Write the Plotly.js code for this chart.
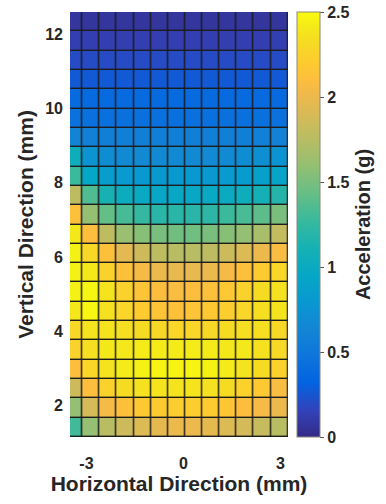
<!DOCTYPE html>
<html>
<head>
<meta charset="utf-8">
<script src="https://cdn.plot.ly/plotly-3.0.1.min.js"></script>
<style>
  html, body { margin: 0; padding: 0; background: #ffffff; }
  #chart { width: 386px; height: 504px; }
</style>
</head>
<body>
<div id="chart"></div>
<script>
// Horizontal positions (mm) of the measurement grid columns (cell centres)
const xPositions = [-3.39, -2.86, -2.33, -1.80, -1.27, -0.74, -0.21, 0.32, 0.85, 1.38, 1.91, 2.44, 2.97];
// Vertical positions (mm) of the measurement grid rows (cell centres), bottom to top
const yPositions = [1.42, 1.94, 2.46, 2.98, 3.50, 4.02, 4.54, 5.06, 5.58, 6.10, 6.62,
                    7.14, 7.66, 8.18, 8.70, 9.22, 9.74, 10.26, 10.78, 11.30, 11.82, 12.34];

// Acceleration (g), one row per vertical position (bottom to top)
const row01 = [1.30, 1.60, 1.75, 1.85, 1.92, 1.97, 2.00, 2.00, 1.97, 1.92, 1.88, 1.82, 1.75];
const row02 = [1.60, 1.88, 2.05, 2.12, 2.18, 2.20, 2.22, 2.22, 2.20, 2.16, 2.10, 2.05, 2.00];
const row03 = [1.85, 2.10, 2.25, 2.32, 2.36, 2.38, 2.38, 2.38, 2.36, 2.32, 2.25, 2.18, 2.08];
const row04 = [2.10, 2.28, 2.38, 2.42, 2.45, 2.46, 2.46, 2.46, 2.45, 2.42, 2.38, 2.32, 2.25];
const row05 = [2.25, 2.35, 2.40, 2.40, 2.42, 2.42, 2.42, 2.42, 2.42, 2.40, 2.40, 2.36, 2.30];
const row06 = [2.30, 2.38, 2.38, 2.35, 2.32, 2.30, 2.28, 2.28, 2.30, 2.32, 2.35, 2.35, 2.30];
const row07 = [2.40, 2.48, 2.36, 2.28, 2.20, 2.15, 2.13, 2.15, 2.18, 2.22, 2.28, 2.35, 2.38];
const row08 = [2.45, 2.47, 2.38, 2.25, 2.15, 2.10, 2.08, 2.10, 2.12, 2.18, 2.25, 2.32, 2.36];
const row09 = [2.45, 2.40, 2.25, 2.12, 2.05, 2.00, 1.98, 1.98, 2.00, 2.05, 2.12, 2.20, 2.28];
const row10 = [2.45, 2.30, 2.12, 1.95, 1.85, 1.78, 1.75, 1.75, 1.78, 1.84, 1.92, 2.00, 2.08];
const row11 = [2.40, 2.10, 1.78, 1.62, 1.55, 1.50, 1.47, 1.47, 1.50, 1.55, 1.60, 1.68, 1.80];
const row12 = [2.12, 1.60, 1.42, 1.32, 1.25, 1.20, 1.20, 1.20, 1.22, 1.28, 1.33, 1.40, 1.50];
const row13 = [1.78, 1.35, 1.12, 1.02, 0.98, 0.96, 0.96, 0.96, 0.98, 1.00, 1.05, 1.10, 1.18];
const row14 = [1.28, 0.95, 0.85, 0.82, 0.80, 0.80, 0.80, 0.80, 0.80, 0.82, 0.84, 0.88, 0.92];
const row15 = [1.05, 0.75, 0.70, 0.68, 0.68, 0.68, 0.68, 0.68, 0.68, 0.68, 0.70, 0.72, 0.75];
const row16 = [0.62, 0.59, 0.58, 0.58, 0.58, 0.58, 0.58, 0.58, 0.58, 0.58, 0.58, 0.59, 0.60];
const row17 = [0.44, 0.43, 0.43, 0.43, 0.43, 0.43, 0.43, 0.43, 0.43, 0.43, 0.43, 0.43, 0.44];
const row18 = [0.38, 0.38, 0.38, 0.38, 0.38, 0.38, 0.38, 0.38, 0.38, 0.38, 0.38, 0.38, 0.38];
const row19 = [0.27, 0.27, 0.27, 0.27, 0.27, 0.27, 0.27, 0.27, 0.27, 0.27, 0.27, 0.27, 0.27];
const row20 = [0.20, 0.20, 0.20, 0.20, 0.20, 0.20, 0.20, 0.20, 0.20, 0.20, 0.20, 0.20, 0.20];
const row21 = [0.13, 0.13, 0.13, 0.13, 0.13, 0.13, 0.13, 0.13, 0.13, 0.13, 0.13, 0.13, 0.13];
const row22 = [0.07, 0.07, 0.07, 0.07, 0.07, 0.07, 0.07, 0.07, 0.07, 0.07, 0.07, 0.07, 0.07];

const accel = [row01, row02, row03, row04, row05, row06, row07, row08, row09, row10, row11,
               row12, row13, row14, row15, row16, row17, row18, row19, row20, row21, row22];

const xTickVals = [-3, 0, 3];
const yTickVals = [2, 4, 6, 8, 10, 12];
const cbTickVals = [0, 0.5, 1, 1.5, 2, 2.5];
const cbTickText = ['0', '0.5', '1', '1.5', '2', '2.5'];

// MATLAB parula colormap (sampled)
const parulaRGB = [
  [1, 0.2081, 0.1663, 0.5292], [5, 0.1959, 0.2645, 0.7279], [9, 0.0117, 0.3875, 0.8820],
  [13, 0.0498, 0.4586, 0.8641], [17, 0.0793, 0.5200, 0.8312], [21, 0.0343, 0.5966, 0.8199],
  [25, 0.0228, 0.6535, 0.7768], [29, 0.0843, 0.6928, 0.7062], [33, 0.2178, 0.7250, 0.6193],
  [37, 0.3953, 0.7459, 0.5244], [41, 0.5709, 0.7485, 0.4494], [45, 0.7184, 0.7411, 0.3905],
  [49, 0.8507, 0.7299, 0.3360], [52, 0.9450, 0.7261, 0.2886], [54, 0.9938, 0.7455, 0.2403],
  [56, 0.9955, 0.7861, 0.1967], [58, 0.9789, 0.8271, 0.1633], [60, 0.9626, 0.8705, 0.1309],
  [62, 0.9598, 0.9218, 0.0948], [64, 0.9763, 0.9831, 0.0538]
];
const parula = parulaRGB.map(function (e) {
  return [(e[0] - 1) / 63, 'rgb(' + Math.round(e[1] * 255) + ',' + Math.round(e[2] * 255) + ',' + Math.round(e[3] * 255) + ')'];
});

const FONT = '"Liberation Sans", Arial, sans-serif';
const TXT = '#262626';

const trace = {
  type: 'heatmap',
  x: xPositions,
  y: yPositions,
  z: accel,
  zmin: 0,
  zmax: 2.5,
  colorscale: parula,
  xgap: 1.4,
  ygap: 1.4,
  hoverinfo: 'skip',
  colorbar: {
    thickness: 23,
    thicknessmode: 'pixels',
    len: 1,
    lenmode: 'fraction',
    x: 1.042,
    xanchor: 'left',
    xpad: 0,
    y: 0.5,
    yanchor: 'middle',
    ypad: 0,
    outlinewidth: 1,
    outlinecolor: '#8a8a7a',
    tickvals: cbTickVals,
    ticktext: cbTickText,
    ticks: 'outside',
    ticklen: 4,
    tickwidth: 1,
    tickcolor: '#555',
    tickfont: { family: FONT, size: 16, color: TXT, weight: 'bold' },
    title: {
      text: '<b>Acceleration (g)</b>',
      side: 'right',
      font: { family: FONT, size: 20, color: TXT }
    }
  }
};

const layout = {
  width: 386,
  height: 504,
  margin: { l: 70, r: 95.3, t: 12.3, b: 66.7, pad: 0 },
  paper_bgcolor: '#ffffff',
  plot_bgcolor: '#1c1c1c',
  showlegend: false,
  xaxis: {
    range: [-3.51, 3.235],
    tickvals: xTickVals,
    ticktext: ['-3', '0', '3'],
    ticks: '',
    showgrid: false,
    zeroline: false,
    showline: false,
    ticklabelstandoff: 15,
    tickfont: { family: FONT, size: 16, color: TXT, weight: 'bold' },
    title: {
      text: '<b>Horizontal Direction (mm)</b>',
      font: { family: FONT, size: 21, color: TXT },
      standoff: 3
    }
  },
  yaxis: {
    range: [1.16, 12.60],
    tickvals: yTickVals,
    ticks: '',
    showgrid: false,
    zeroline: false,
    showline: false,
    ticklabelstandoff: 6,
    tickfont: { family: FONT, size: 16, color: TXT, weight: 'bold' },
    title: {
      text: '<b>Vertical Direction (mm)</b>',
      font: { family: FONT, size: 21, color: TXT },
      standoff: 5
    }
  }
};

Plotly.newPlot('chart', [trace], layout, { displayModeBar: false, staticPlot: true });
</script>
</body>
</html>
